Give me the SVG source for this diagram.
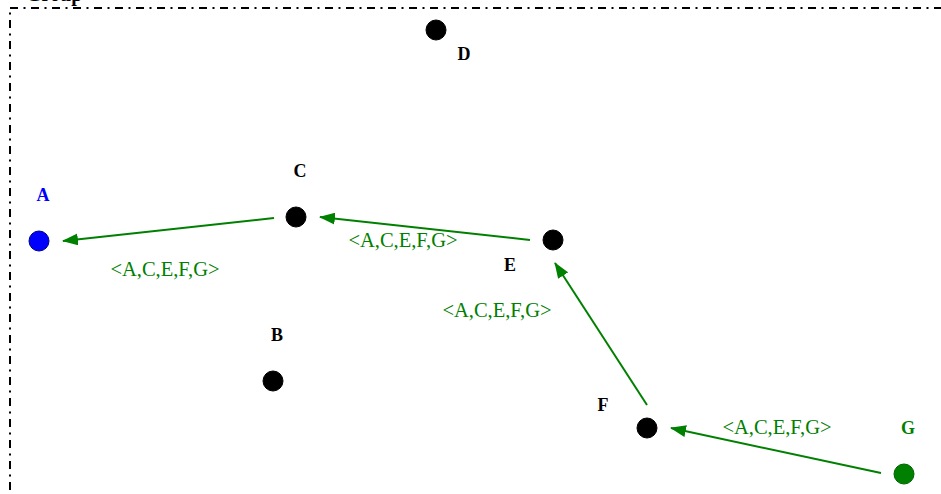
<svg xmlns="http://www.w3.org/2000/svg" width="941" height="494" viewBox="0 0 941 494">
<style>
.frame{fill:none;stroke:#000;stroke-width:2;stroke-dasharray:8,5.5,2,5.5}
.nl{font-family:"Liberation Serif",serif;font-weight:bold;font-size:18px;text-anchor:middle}
.el{font-family:"Liberation Serif",serif;font-size:20.5px;fill:#008000;text-anchor:middle}
.edge{stroke:#008000;stroke-width:2;fill:none}
.node{fill:#000;stroke:#000}
</style>
<defs>
<marker id="ah" viewBox="0 0 16 12" refX="15" refY="6" markerWidth="16" markerHeight="12" markerUnits="userSpaceOnUse" orient="auto">
<path d="M0,0 L16,6 L0,12 Z" fill="#008000"/>
</marker>
</defs>
<rect class="frame" x="10" y="8" width="960" height="520"/>
<text x="26" y="0.5" font-family="Liberation Serif,serif" font-weight="bold" font-size="20">Group</text>
<g id="edges">
<line class="edge" x1="274" y1="218" x2="63" y2="241" marker-end="url(#ah)"/>
<line class="edge" x1="530" y1="240" x2="320" y2="217" marker-end="url(#ah)"/>
<line class="edge" x1="647" y1="405" x2="555" y2="263" marker-end="url(#ah)"/>
<line class="edge" x1="881" y1="473" x2="671" y2="428" marker-end="url(#ah)"/>
<text class="el" x="165" y="276">&lt;A,C,E,F,G&gt;</text>
<text class="el" x="403" y="247">&lt;A,C,E,F,G&gt;</text>
<text class="el" x="497" y="317">&lt;A,C,E,F,G&gt;</text>
<text class="el" x="777" y="434">&lt;A,C,E,F,G&gt;</text>
</g>
<g id="A"><circle cx="39" cy="241" r="10" fill="#0000ff" stroke="#00008b"/><text class="nl" x="43" y="201" fill="#0000ff">A</text></g>
<g id="B"><circle class="node" cx="273" cy="381" r="10"/><text class="nl" x="277" y="341">B</text></g>
<g id="C"><circle class="node" cx="296" cy="217" r="10"/><text class="nl" x="300" y="177">C</text></g>
<g id="D"><circle class="node" cx="436" cy="30" r="10"/><text class="nl" x="464" y="60">D</text></g>
<g id="E"><circle class="node" cx="553" cy="240" r="10"/><text class="nl" x="510" y="271">E</text></g>
<g id="F"><circle class="node" cx="647" cy="428" r="10"/><text class="nl" x="603" y="411">F</text></g>
<g id="G"><circle cx="904" cy="474" r="10" fill="#008000" stroke="#006400"/><text class="nl" x="908" y="434" fill="#008000">G</text></g>
</svg>
